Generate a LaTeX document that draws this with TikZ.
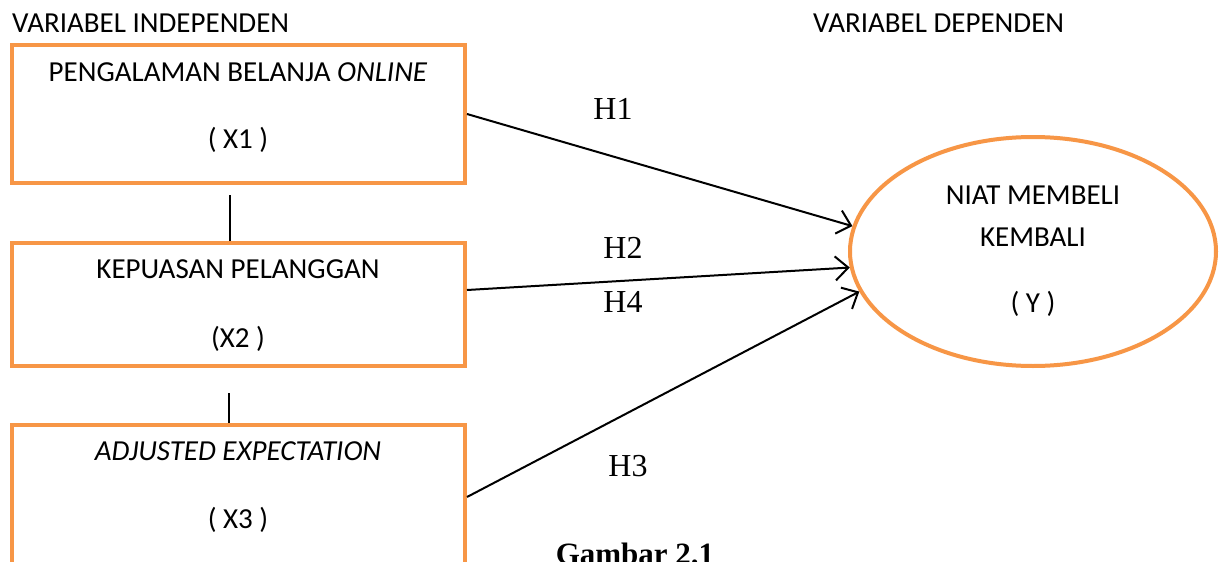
\documentclass[tikz,border=0pt]{standalone}
\usepackage{fontspec}
\setmainfont{Carlito}
\newfontfamily\timesfont{Liberation Serif}
\usetikzlibrary{arrows.meta,shapes.geometric,calc}
\definecolor{boxorange}{HTML}{F79646}
\tikzset{
  varbox/.style={draw=boxorange, line width=4pt, rectangle, inner sep=0pt, minimum width=453pt},
  varell/.style={draw=boxorange, line width=4pt, ellipse, inner sep=0pt, minimum width=366pt, minimum height=229pt},
  lbl/.style={anchor=base, inner sep=0pt, font=\fontsize{29}{35}\selectfont},
  hlbl/.style={anchor=base, inner sep=0pt, font=\timesfont\fontsize{32}{38}\selectfont},
  link/.style={draw=black, line width=2pt},
  harrow/.style={link, -{Straight Barb[length=13pt,width=24pt,line width=2pt]}}
}
\begin{document}
\begin{tikzpicture}[x=1pt,y=-1pt]
\useasboundingbox (0,0) rectangle (1227,562);
\fill[white] (0,0) rectangle (1227,562);

% boxes
\node[varbox, minimum height=138pt] (b1) at (238.5,114) {};
\node[varbox, minimum height=123pt] (b2) at (238.5,304.5) {};
\node[varbox, minimum height=150pt] (b3) at (238.5,500) {};
\node[varell] (y) at (1033,251.5) {};

% headings
\node[lbl, anchor=base west] (ti) at (12,32) {VARIABEL INDEPENDEN};
\node[lbl, anchor=base west] (td) at (813,32) {VARIABEL DEPENDEN};

% box texts
\node[lbl] (t1a) at (238,81) {PENGALAMAN BELANJA \textit{ONLINE}};
\node[lbl] (t1b) at (238,148) {( X1 )};
\node[lbl] (t2a) at (238,278) {KEPUASAN PELANGGAN};
\node[lbl] (t2b) at (238,347) {(X2 )};
\node[lbl] (t3a) at (238,460) {\textit{ADJUSTED EXPECTATION}};
\node[lbl] (t3b) at (238,528) {( X3 )};
\node[lbl] (ya) at (1033,204) {NIAT MEMBELI};
\node[lbl] (yb) at (1033,246) {KEMBALI};
\node[lbl] (yc) at (1033,312) {( Y )};

% vertical links
\coordinate (v1) at (230,195);
\draw[link] (v1) -- (v1 |- b2.north);
\coordinate (v2) at (229,393);
\draw[link] (v2) -- (v2 |- b3.north);

% arrows
\draw[harrow] (b1.east) -- (y.172);
\draw[harrow] ($(b2.east)+(0,-14.5)$) -- (y.185);
\draw[harrow] ($(b3.east)+(0,-3)$) -- (y.193);

% hypothesis labels
\node[hlbl] (h1) at (613,119) {H1};
\node[hlbl] (h2) at (623,258) {H2};
\node[hlbl] (h4) at (623,312) {H4};
\node[hlbl] (h3) at (628,476) {H3};

% caption
\node[hlbl, font=\timesfont\bfseries\fontsize{31}{37}\selectfont] (g) at (635,564) {Gambar 2.1};
\end{tikzpicture}
\end{document}
